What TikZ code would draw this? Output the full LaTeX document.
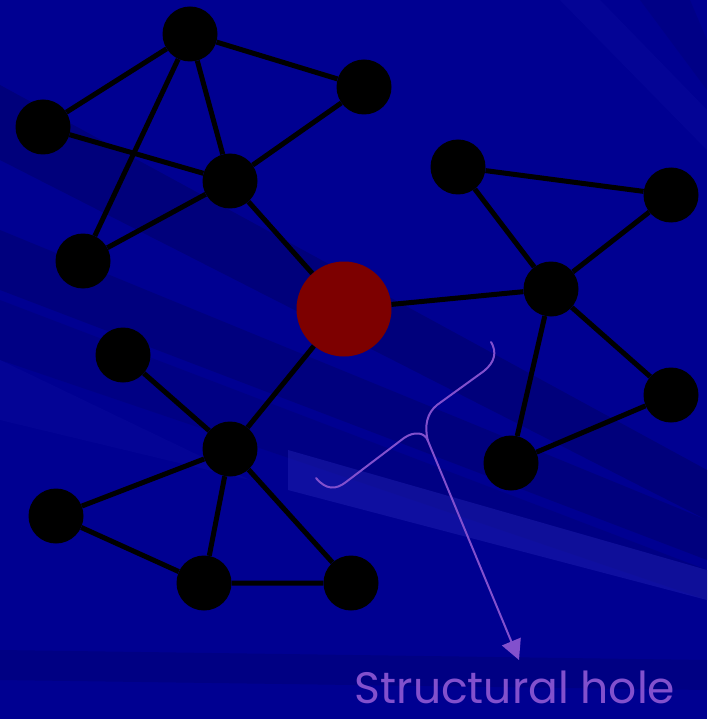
\documentclass[tikz,border=0pt]{standalone}
\usepackage{fontspec}
\newfontfamily\labelfont{Poppins}
\usetikzlibrary{arrows.meta}
\definecolor{bgblue}{RGB}{0,0,145}
\definecolor{darkband}{RGB}{0,0,105}
\definecolor{lightband}{RGB}{30,30,175}
\definecolor{hubred}{RGB}{125,0,0}
\definecolor{bracecol}{RGB}{130,80,205}
\tikzset{
  vert/.style={circle,fill=black,minimum size=55pt,inner sep=0pt},
  centre/.style={circle,fill=hubred,minimum size=95pt,inner sep=0pt},
  tie/.style={line width=5pt,black},
  bracepath/.style={line width=2pt,bracecol,line cap=round},
}
\begin{document}
\begin{tikzpicture}[x=1pt,y=-1pt]
\fill[bgblue] (0,0) rectangle (707,719);
\useasboundingbox (0,0) rectangle (707,719);
% background rays
\fill[darkband,opacity=0.55] (0,85) -- (0,160) -- (707,520) -- (707,470) -- cycle;
\fill[darkband,opacity=0.45] (0,230) -- (0,290) -- (707,560) -- (707,520) -- cycle;
\fill[darkband,opacity=0.3] (0,300) -- (0,360) -- (707,600) -- (707,570) -- cycle;
\fill[lightband,opacity=0.5] (288,450) -- (288,490) -- (707,600) -- (707,570) -- cycle;
\fill[lightband,opacity=0.15] (0,360) -- (0,420) -- (250,480) -- cycle;
\fill[darkband,opacity=0.35] (0,650) -- (0,680) -- (707,690) -- (707,660) -- cycle;
\fill[lightband,opacity=0.15] (560,0) -- (600,0) -- (707,110) -- (707,150) -- cycle;
\fill[darkband,opacity=0.25] (640,0) -- (690,0) -- (707,40) -- (707,90) -- cycle;
% nodes
\node[vert] (a) at (190,34) {};
\node[vert] (b) at (364,87) {};
\node[vert] (c) at (43,127) {};
\node[vert] (d) at (230,181) {};
\node[vert] (e) at (83,261) {};
\node[centre] (r) at (344,309) {};
\node[vert] (f) at (458,167) {};
\node[vert] (g) at (671,195) {};
\node[vert] (h) at (551,289) {};
\node[vert] (i) at (671,395) {};
\node[vert] (j) at (511,463) {};
\node[vert] (k) at (123,355) {};
\node[vert] (l) at (230,449) {};
\node[vert] (m) at (56,516) {};
\node[vert] (n) at (204,583) {};
\node[vert] (o) at (351,583) {};
% ties
\draw[tie] (a)--(b) (a)--(c) (a)--(d) (a)--(e) (c)--(d) (b)--(d) (d)--(e) (d)--(r);
\draw[tie] (r)--(h) (f)--(g) (f)--(h) (g)--(h) (h)--(i) (h)--(j) (i)--(j);
\draw[tie] (k)--(l) (l)--(r) (l)--(m) (l)--(n) (l)--(o) (m)--(n) (n)--(o);
% brace and arrow
\coordinate (tip) at (428,441);
\coordinate (arrowend) at (519,660);
\draw[bracepath] (316,478) .. controls (326,490) and (336,490) .. (346,482) -- (404,438)
  .. controls (414,431) and (425,432) .. (tip);
\draw[bracepath] (tip) .. controls (424,426) and (427,413) .. (437,405) -- (484,371)
  .. controls (495,362) and (497,352) .. (491,342);
\draw[bracecol,line width=2pt,-{Triangle[length=20pt,width=20pt]}] (tip) -- (arrowend);
\node[anchor=base,text=bracecol,font=\labelfont\fontsize{44}{44}\selectfont,inner sep=0pt] (lab) at (515,703) {Structural hole};
\end{tikzpicture}
\end{document}
